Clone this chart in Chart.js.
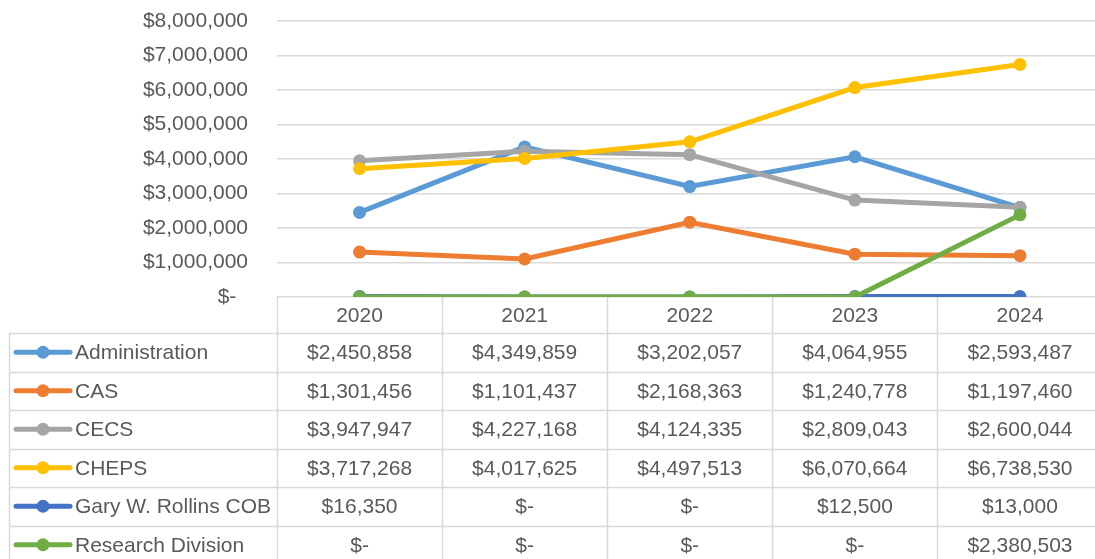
<!DOCTYPE html>
<html lang="en">
<head>
<meta charset="UTF-8">
<title>Funding by Unit 2020-2024</title>
<script src="https://cdn.jsdelivr.net/npm/chart.js@4.4.1/dist/chart.umd.min.js"></script>
<style>
    html, body { margin: 0; padding: 0; background: #fff; overflow: hidden; }
    #wrap { width: 1109px; height: 559px; }
</style>
</head>
<body>
<div id="wrap">
    <canvas id="fundingChart" width="1109" height="559"></canvas>
</div>
<script>
// chart data
const years = ['2020', '2021', '2022', '2023', '2024'];
const seriesNames = ['Administration', 'CAS', 'CECS', 'CHEPS', 'Gary W. Rollins COB', 'Research Division'];
const administration = [2450858, 4349859, 3202057, 4064955, 2593487];
const cas = [1301456, 1101437, 2168363, 1240778, 1197460];
const cecs = [3947947, 4227168, 4124335, 2809043, 2600044];
const cheps = [3717268, 4017625, 4497513, 6070664, 6738530];
const rollins = [16350, 0, 0, 12500, 13000];
const research = [0, 0, 0, 0, 2380503];
const yTicks = [0, 1000000, 2000000, 3000000, 4000000, 5000000, 6000000, 7000000, 8000000];

const colors = ['#5B9BD5', '#ED7D31', '#A5A5A5', '#FFC000', '#4472C4', '#70AD47'];
const allValues = [administration, cas, cecs, cheps, rollins, research];

const FONT = '"Liberation Sans", Arial, sans-serif';
const TEXT = '#595959';
const GRID = '#d9d9d9';

function money(v) {
    if (v === 0) return '$-';
    return '$' + v.toLocaleString('en-US');
}

// excel style data table under the plot
const dataTable = {
    id: 'dataTable',
    beforeDatasetsDraw(chart) {
        const ctx = chart.ctx;
        const area = chart.chartArea;
        const x = chart.scales.x;
        const colW = (area.right - area.left) / years.length;
        const headTop = area.bottom;
        const headH = 36;
        const rowH = 38.5;
        const tableLeft = 9;
        const bottom = headTop + headH + rowH * seriesNames.length;

        ctx.save();
        ctx.strokeStyle = GRID;
        ctx.lineWidth = 1.5;
        ctx.beginPath();
        // column separators
        for (let k = 0; k <= years.length; k++) {
            const lx = Math.round(area.left + k * colW) + 0.5;
            ctx.moveTo(lx, headTop);
            ctx.lineTo(lx, bottom);
        }
        ctx.moveTo(tableLeft + 0.5, headTop + headH);
        ctx.lineTo(tableLeft + 0.5, bottom);
        // row separators
        for (let r = 0; r <= seriesNames.length; r++) {
            const ly = Math.round(headTop + headH + r * rowH) + 0.5;
            ctx.moveTo(tableLeft, ly);
            ctx.lineTo(area.right, ly);
        }
        ctx.stroke();

        ctx.font = '21px ' + FONT;
        ctx.fillStyle = TEXT;
        ctx.textBaseline = 'middle';
        ctx.textAlign = 'center';
        years.forEach((yr, i) => {
            ctx.fillText(yr, x.getPixelForValue(i), headTop + headH / 2 + 1);
        });

        seriesNames.forEach((name, r) => {
            const cy = headTop + headH + r * rowH + rowH / 2 + 1;
            // legend key
            ctx.strokeStyle = colors[r];
            ctx.lineWidth = 5;
            ctx.lineCap = 'round';
            ctx.beginPath();
            ctx.moveTo(16, cy - 1);
            ctx.lineTo(70, cy - 1);
            ctx.stroke();
            ctx.fillStyle = colors[r];
            ctx.beginPath();
            ctx.arc(43, cy - 1, 6.5, 0, Math.PI * 2);
            ctx.fill();

            ctx.fillStyle = TEXT;
            ctx.textAlign = 'left';
            ctx.fillText(name, 75, cy);
            ctx.textAlign = 'center';
            allValues[r].forEach((v, i) => {
                ctx.fillText(money(v), x.getPixelForValue(i), cy);
            });
        });
        ctx.restore();
    }
};

const ctx = document.getElementById('fundingChart').getContext('2d');
new Chart(ctx, {
    type: 'line',
    data: {
        labels: years,
        datasets: seriesNames.map((name, i) => ({
            label: name,
            data: allValues[i],
            borderColor: colors[i],
            backgroundColor: colors[i],
            pointBackgroundColor: colors[i],
            pointBorderColor: colors[i],
            borderWidth: 5,
            pointRadius: 6.5,
            pointBorderWidth: 0,
            tension: 0,
            order: seriesNames.length - i
        }))
    },
    options: {
        responsive: false,
        animation: false,
        layout: { padding: { top: 21, bottom: 262, left: 0, right: 0 } },
        plugins: {
            legend: { display: false },
            tooltip: { enabled: false },
            title: { display: false }
        },
        scales: {
            x: {
                display: false,
                offset: true,
                afterFit(s) { s.paddingLeft = 0; s.paddingRight = 0; }
            },
            y: {
                min: 0,
                max: 8000000,
                afterFit(s) { s.width = 277; s.paddingTop = 0; s.paddingBottom = 0; },
                afterBuildTicks(s) { s.ticks = yTicks.map(v => ({ value: v })); },
                border: { display: false },
                grid: { color: GRID, lineWidth: 1.5, drawTicks: false },
                ticks: {
                    padding: 29,
                    color: TEXT,
                    font: { family: FONT, size: 21 },
                    callback: v => v === 0 ? '$-  ' : money(v)
                }
            }
        }
    },
    plugins: [dataTable]
});
</script>
</body>
</html>
